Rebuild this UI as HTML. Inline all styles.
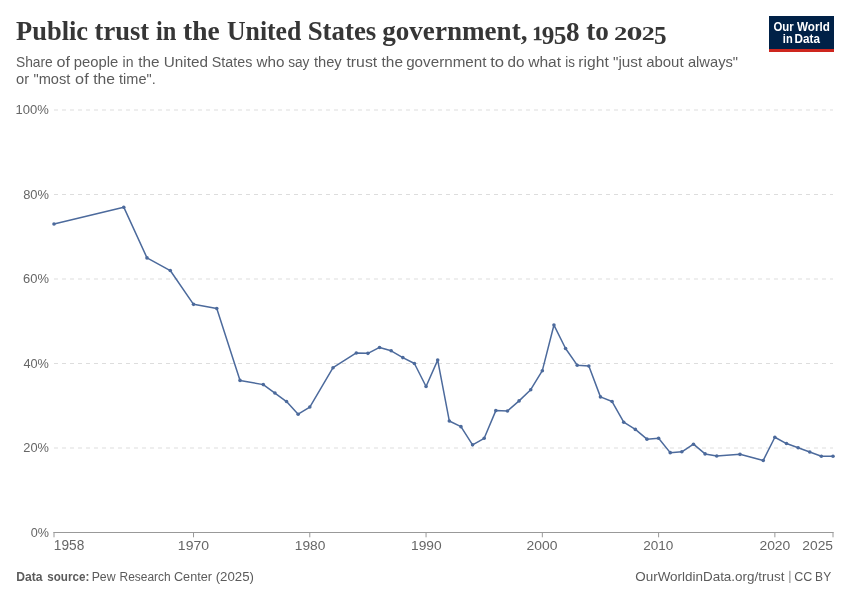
<!DOCTYPE html>
<html><head><meta charset="utf-8"><title>Public trust in the United States government, 1958 to 2025</title>
<style>
html,body{margin:0;padding:0;background:#fff;}
body{width:850px;height:600px;overflow:hidden;position:relative;font-family:"Liberation Sans",sans-serif;}
svg{position:absolute;left:0;top:0;display:block;will-change:transform;}
</style></head><body>
<svg width="850" height="600" viewBox="0 0 850 600" font-family="Liberation Sans, sans-serif">
<rect width="850" height="600" fill="#fff"/>
<g id="title"><text transform="translate(16.05,40.00) scale(0.9595,1.0)" font-family="Liberation Serif" font-weight="bold" font-size="27.6" fill="#363636">Public</text><text transform="translate(94.58,40.00) scale(0.9614,1.0)" font-family="Liberation Serif" font-weight="bold" font-size="27.6" fill="#363636">trust</text><text transform="translate(155.99,40.00) scale(0.8843,1.0)" font-family="Liberation Serif" font-weight="bold" font-size="27.6" fill="#363636">in</text><text transform="translate(183.06,40.00) scale(0.9963,1.0)" font-family="Liberation Serif" font-weight="bold" font-size="27.6" fill="#363636">the</text><text transform="translate(226.98,40.00) scale(0.9331,1.0)" font-family="Liberation Serif" font-weight="bold" font-size="27.6" fill="#363636">United</text><text transform="translate(307.68,40.00) scale(0.9723,1.0)" font-family="Liberation Serif" font-weight="bold" font-size="27.6" fill="#363636">States</text><text transform="translate(382.20,40.00) scale(0.9824,1.0)" font-family="Liberation Serif" font-weight="bold" font-size="27.6" fill="#363636">government,</text><text transform="translate(586.16,40.00) scale(0.9860,1.0)" font-family="Liberation Serif" font-weight="bold" font-size="27.6" fill="#363636">to</text><text transform="translate(532.44,40.00) scale(1.0140,1)" font-family="Liberation Serif" font-weight="bold" font-size="19.24" fill="#363636" stroke="#363636" stroke-width="0.45">1</text><text transform="translate(541.72,43.95) scale(0.9950,1)" font-family="Liberation Serif" font-weight="bold" font-size="25.30" fill="#363636">9</text><text transform="translate(553.78,43.95) scale(1.0328,1)" font-family="Liberation Serif" font-weight="bold" font-size="24.66" fill="#363636">5</text><text transform="translate(566.10,40.73) scale(1.0084,1)" font-family="Liberation Serif" font-weight="bold" font-size="26.96" fill="#363636">8</text><text transform="translate(614.08,40.00) scale(1.3800,1)" font-family="Liberation Serif" font-weight="bold" font-size="19.34" fill="#363636">2</text><text transform="translate(626.38,40.11) scale(1.6527,1)" font-family="Liberation Serif" font-weight="bold" font-size="19.41" fill="#363636">0</text><text transform="translate(641.81,40.00) scale(1.3427,1)" font-family="Liberation Serif" font-weight="bold" font-size="19.34" fill="#363636">2</text><text transform="translate(654.09,43.95) scale(1.0233,1)" font-family="Liberation Serif" font-weight="bold" font-size="24.66" fill="#363636">5</text></g>
<g id="subtitle"><text transform="translate(15.98,67.00) scale(0.9327,1.0)" font-family="Liberation Sans" font-weight="normal" font-size="14.8" fill="#5b5b5b">Share</text><text transform="translate(56.52,67.00) scale(1.0893,1.0)" font-family="Liberation Sans" font-weight="normal" font-size="14.8" fill="#5b5b5b">of</text><text transform="translate(73.75,67.00) scale(1.0013,1.0)" font-family="Liberation Sans" font-weight="normal" font-size="14.8" fill="#5b5b5b">people</text><text transform="translate(122.57,67.00) scale(0.9489,1.0)" font-family="Liberation Sans" font-weight="normal" font-size="14.8" fill="#5b5b5b">in</text><text transform="translate(138.27,67.00) scale(1.0356,1.0)" font-family="Liberation Sans" font-weight="normal" font-size="14.8" fill="#5b5b5b">the</text><text transform="translate(163.72,67.00) scale(1.0348,1.0)" font-family="Liberation Sans" font-weight="normal" font-size="14.8" fill="#5b5b5b">United</text><text transform="translate(211.86,67.00) scale(0.9642,1.0)" font-family="Liberation Sans" font-weight="normal" font-size="14.8" fill="#5b5b5b">States</text><text transform="translate(256.53,67.00) scale(1.0314,1.0)" font-family="Liberation Sans" font-weight="normal" font-size="14.8" fill="#5b5b5b">who</text><text transform="translate(288.13,67.00) scale(0.9248,1.0)" font-family="Liberation Sans" font-weight="normal" font-size="14.8" fill="#5b5b5b">say</text><text transform="translate(313.88,67.00) scale(0.9957,1.0)" font-family="Liberation Sans" font-weight="normal" font-size="14.8" fill="#5b5b5b">they</text><text transform="translate(346.46,67.00) scale(1.0682,1.0)" font-family="Liberation Sans" font-weight="normal" font-size="14.8" fill="#5b5b5b">trust</text><text transform="translate(381.57,67.00) scale(1.0407,1.0)" font-family="Liberation Sans" font-weight="normal" font-size="14.8" fill="#5b5b5b">the</text><text transform="translate(406.16,67.00) scale(1.0280,1.0)" font-family="Liberation Sans" font-weight="normal" font-size="14.8" fill="#5b5b5b">government</text><text transform="translate(490.15,67.00) scale(1.1290,1.0)" font-family="Liberation Sans" font-weight="normal" font-size="14.8" fill="#5b5b5b">to</text><text transform="translate(507.46,67.00) scale(1.0309,1.0)" font-family="Liberation Sans" font-weight="normal" font-size="14.8" fill="#5b5b5b">do</text><text transform="translate(528.13,67.00) scale(1.0550,1.0)" font-family="Liberation Sans" font-weight="normal" font-size="14.8" fill="#5b5b5b">what</text><text transform="translate(565.22,67.00) scale(0.9045,1.0)" font-family="Liberation Sans" font-weight="normal" font-size="14.8" fill="#5b5b5b">is</text><text transform="translate(578.37,67.00) scale(1.0570,1.0)" font-family="Liberation Sans" font-weight="normal" font-size="14.8" fill="#5b5b5b">right</text><text transform="translate(613.06,67.00) scale(1.0306,1.0)" font-family="Liberation Sans" font-weight="normal" font-size="14.8" fill="#5b5b5b">&quot;just</text><text transform="translate(646.17,67.00) scale(1.0105,1.0)" font-family="Liberation Sans" font-weight="normal" font-size="14.8" fill="#5b5b5b">about</text><text transform="translate(687.88,67.00) scale(0.9948,1.0)" font-family="Liberation Sans" font-weight="normal" font-size="14.8" fill="#5b5b5b">always&quot;</text><text transform="translate(15.98,84.00) scale(0.9920,1.0)" font-family="Liberation Sans" font-weight="normal" font-size="14.8" fill="#5b5b5b">or</text><text transform="translate(33.49,84.00) scale(0.9891,1.0)" font-family="Liberation Sans" font-weight="normal" font-size="14.8" fill="#5b5b5b">&quot;most</text><text transform="translate(75.12,84.00) scale(1.0978,1.0)" font-family="Liberation Sans" font-weight="normal" font-size="14.8" fill="#5b5b5b">of</text><text transform="translate(93.16,84.00) scale(1.0610,1.0)" font-family="Liberation Sans" font-weight="normal" font-size="14.8" fill="#5b5b5b">the</text><text transform="translate(119.08,84.00) scale(0.9816,1.0)" font-family="Liberation Sans" font-weight="normal" font-size="14.8" fill="#5b5b5b">time&quot;.</text></g>
<g id="logo">
<rect x="769" y="16" width="65" height="36" fill="#002147"/>
<rect x="769" y="49" width="65" height="3" fill="#ce261e"/>
<text transform="translate(773.43,31.00) scale(0.9608,1.0)" font-family="Liberation Sans" font-weight="bold" font-size="11.9" fill="#fff">Our</text><text transform="translate(797.09,31.00) scale(0.9786,1.0)" font-family="Liberation Sans" font-weight="bold" font-size="11.9" fill="#fff">World</text>
<text transform="translate(782.84,43.00) scale(0.9312,1.0)" font-family="Liberation Sans" font-weight="bold" font-size="11.9" fill="#fff">in</text><text transform="translate(794.53,43.00) scale(0.9846,1.0)" font-family="Liberation Sans" font-weight="bold" font-size="11.9" fill="#fff">Data</text>
</g>
<g stroke="#ddd" stroke-width="1" stroke-dasharray="4,4" fill="none"><line x1="54" x2="833" y1="448.00" y2="448.00"/><line x1="54" x2="833" y1="363.50" y2="363.50"/><line x1="54" x2="833" y1="279.00" y2="279.00"/><line x1="54" x2="833" y1="194.50" y2="194.50"/><line x1="54" x2="833" y1="110.00" y2="110.00"/></g>
<g stroke="#999" stroke-width="1" fill="none"><line x1="53.5" x2="833.5" y1="532.5" y2="532.5"/><line x1="54.00" x2="54.00" y1="532" y2="537.3"/><line x1="193.52" x2="193.52" y1="532" y2="537.3"/><line x1="309.79" x2="309.79" y1="532" y2="537.3"/><line x1="426.06" x2="426.06" y1="532" y2="537.3"/><line x1="542.33" x2="542.33" y1="532" y2="537.3"/><line x1="658.60" x2="658.60" y1="532" y2="537.3"/><line x1="774.87" x2="774.87" y1="532" y2="537.3"/><line x1="833.00" x2="833.00" y1="532" y2="537.3"/></g>
<g id="ylabels"><text transform="translate(30.71,536.85) scale(0.9211,1.0)" font-family="Liberation Sans" font-weight="normal" font-size="13.7" fill="#666">0%</text><text transform="translate(23.26,452.35) scale(0.9372,1.0)" font-family="Liberation Sans" font-weight="normal" font-size="13.7" fill="#666">20%</text><text transform="translate(23.42,367.85) scale(0.9312,1.0)" font-family="Liberation Sans" font-weight="normal" font-size="13.7" fill="#666">40%</text><text transform="translate(23.05,283.35) scale(0.9448,1.0)" font-family="Liberation Sans" font-weight="normal" font-size="13.7" fill="#666">60%</text><text transform="translate(23.15,198.85) scale(0.9414,1.0)" font-family="Liberation Sans" font-weight="normal" font-size="13.7" fill="#666">80%</text><text transform="translate(15.61,114.35) scale(0.9519,1.0)" font-family="Liberation Sans" font-weight="normal" font-size="13.7" fill="#666">100%</text></g>
<g id="xlabels"><text transform="translate(53.86,550.40) scale(0.9987,1.0)" font-family="Liberation Sans" font-weight="normal" font-size="13.7" fill="#666">1958</text><text transform="translate(177.83,550.40) scale(1.0240,1.0)" font-family="Liberation Sans" font-weight="normal" font-size="13.7" fill="#666">1970</text><text transform="translate(294.76,550.40) scale(1.0032,1.0)" font-family="Liberation Sans" font-weight="normal" font-size="13.7" fill="#666">1980</text><text transform="translate(411.06,550.40) scale(1.0032,1.0)" font-family="Liberation Sans" font-weight="normal" font-size="13.7" fill="#666">1990</text><text transform="translate(526.50,550.40) scale(1.0149,1.0)" font-family="Liberation Sans" font-weight="normal" font-size="13.7" fill="#666">2000</text><text transform="translate(643.22,550.40) scale(0.9910,1.0)" font-family="Liberation Sans" font-weight="normal" font-size="13.7" fill="#666">2010</text><text transform="translate(759.40,550.40) scale(1.0149,1.0)" font-family="Liberation Sans" font-weight="normal" font-size="13.7" fill="#666">2020</text><text transform="translate(802.31,550.40) scale(1.0095,1.0)" font-family="Liberation Sans" font-weight="normal" font-size="13.7" fill="#666">2025</text></g>
<path d="M54.00,224.07 L123.76,207.18 L147.01,257.88 L170.27,270.55 L193.52,304.35 L216.78,308.57 L240.03,380.40 L263.28,384.62 L274.91,393.07 L286.54,401.52 L298.16,414.20 L309.79,407.02 L333.04,367.73 L356.30,352.94 L367.93,353.36 L379.55,347.45 L391.18,350.82 L402.81,357.59 L414.43,363.50 L426.06,386.53 L437.69,360.12 L449.31,420.96 L460.94,426.66 L472.57,444.83 L484.19,438.28 L495.82,410.61 L507.45,411.03 L519.07,400.89 L530.70,389.70 L542.33,370.68 L553.96,325.05 L565.58,348.50 L577.21,365.19 L588.84,366.04 L600.46,396.88 L612.09,401.52 L623.72,422.23 L635.34,429.41 L646.97,439.13 L658.60,438.28 L670.22,452.65 L681.85,451.80 L693.48,444.20 L705.10,453.91 L716.73,456.03 L739.99,454.34 L763.24,460.46 L774.87,437.23 L786.49,443.56 L798.12,447.79 L809.75,452.01 L821.37,456.24 L833.00,456.24" fill="none" stroke="#4c6a9c" stroke-width="1.5" stroke-linejoin="round" stroke-linecap="butt"/>
<g fill="#4c6a9c"><circle cx="54.00" cy="224.07" r="1.8"/><circle cx="123.76" cy="207.18" r="1.8"/><circle cx="147.01" cy="257.88" r="1.8"/><circle cx="170.27" cy="270.55" r="1.8"/><circle cx="193.52" cy="304.35" r="1.8"/><circle cx="216.78" cy="308.57" r="1.8"/><circle cx="240.03" cy="380.40" r="1.8"/><circle cx="263.28" cy="384.62" r="1.8"/><circle cx="274.91" cy="393.07" r="1.8"/><circle cx="286.54" cy="401.52" r="1.8"/><circle cx="298.16" cy="414.20" r="1.8"/><circle cx="309.79" cy="407.02" r="1.8"/><circle cx="333.04" cy="367.73" r="1.8"/><circle cx="356.30" cy="352.94" r="1.8"/><circle cx="367.93" cy="353.36" r="1.8"/><circle cx="379.55" cy="347.45" r="1.8"/><circle cx="391.18" cy="350.82" r="1.8"/><circle cx="402.81" cy="357.59" r="1.8"/><circle cx="414.43" cy="363.50" r="1.8"/><circle cx="426.06" cy="386.53" r="1.8"/><circle cx="437.69" cy="360.12" r="1.8"/><circle cx="449.31" cy="420.96" r="1.8"/><circle cx="460.94" cy="426.66" r="1.8"/><circle cx="472.57" cy="444.83" r="1.8"/><circle cx="484.19" cy="438.28" r="1.8"/><circle cx="495.82" cy="410.61" r="1.8"/><circle cx="507.45" cy="411.03" r="1.8"/><circle cx="519.07" cy="400.89" r="1.8"/><circle cx="530.70" cy="389.70" r="1.8"/><circle cx="542.33" cy="370.68" r="1.8"/><circle cx="553.96" cy="325.05" r="1.8"/><circle cx="565.58" cy="348.50" r="1.8"/><circle cx="577.21" cy="365.19" r="1.8"/><circle cx="588.84" cy="366.04" r="1.8"/><circle cx="600.46" cy="396.88" r="1.8"/><circle cx="612.09" cy="401.52" r="1.8"/><circle cx="623.72" cy="422.23" r="1.8"/><circle cx="635.34" cy="429.41" r="1.8"/><circle cx="646.97" cy="439.13" r="1.8"/><circle cx="658.60" cy="438.28" r="1.8"/><circle cx="670.22" cy="452.65" r="1.8"/><circle cx="681.85" cy="451.80" r="1.8"/><circle cx="693.48" cy="444.20" r="1.8"/><circle cx="705.10" cy="453.91" r="1.8"/><circle cx="716.73" cy="456.03" r="1.8"/><circle cx="739.99" cy="454.34" r="1.8"/><circle cx="763.24" cy="460.46" r="1.8"/><circle cx="774.87" cy="437.23" r="1.8"/><circle cx="786.49" cy="443.56" r="1.8"/><circle cx="798.12" cy="447.79" r="1.8"/><circle cx="809.75" cy="452.01" r="1.8"/><circle cx="821.37" cy="456.24" r="1.8"/><circle cx="833.00" cy="456.24" r="1.8"/></g>
<g id="footer"><text transform="translate(16.20,580.50) scale(0.9873,1.0)" font-family="Liberation Sans" font-weight="bold" font-size="12.3" fill="#5b5b5b">Data</text><text transform="translate(47.19,580.50) scale(0.9482,1.0)" font-family="Liberation Sans" font-weight="bold" font-size="12.3" fill="#5b5b5b">source:</text><text transform="translate(91.69,580.50) scale(0.9977,1.0)" font-family="Liberation Sans" font-weight="normal" font-size="12.3" fill="#5b5b5b">Pew</text><text transform="translate(119.52,580.50) scale(0.9715,1.0)" font-family="Liberation Sans" font-weight="normal" font-size="12.3" fill="#5b5b5b">Research</text><text transform="translate(173.97,580.50) scale(1.0277,1.0)" font-family="Liberation Sans" font-weight="normal" font-size="12.3" fill="#5b5b5b">Center</text><text transform="translate(215.68,580.50) scale(1.0783,1.0)" font-family="Liberation Sans" font-weight="normal" font-size="12.3" fill="#5b5b5b">(2025)</text><text transform="translate(635.27,580.50) scale(1.0933,1.0)" font-family="Liberation Sans" font-weight="normal" font-size="12.3" fill="#5b5b5b">OurWorldinData.org/trust</text><text transform="translate(794.27,580.50) scale(1.0185,1.0)" font-family="Liberation Sans" font-weight="normal" font-size="12.3" fill="#5b5b5b">CC</text><text transform="translate(815.11,580.50) scale(0.9783,1.0)" font-family="Liberation Sans" font-weight="normal" font-size="12.3" fill="#5b5b5b">BY</text>
<line x1="789.9" x2="789.9" y1="570.8" y2="583" stroke="#858585" stroke-width="1"/></g>
</svg>
</body></html>
